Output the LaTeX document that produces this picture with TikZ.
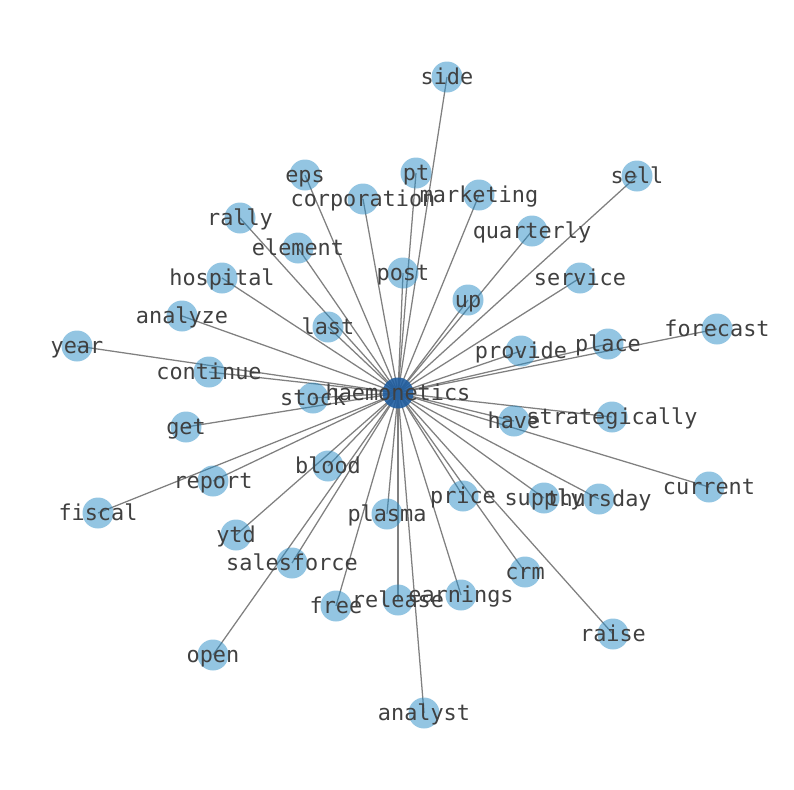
\documentclass[tikz,border=0pt]{standalone}
\usepackage{fontspec}
\setmonofont{DejaVu Sans Mono}
\usetikzlibrary{backgrounds}
\definecolor{leafblue}{RGB}{40,140,198}
\definecolor{hubblue}{RGB}{28,92,160}
\definecolor{labgray}{RGB}{64,64,64}
\definecolor{edgegray}{RGB}{128,128,128}
\begin{document}
\begin{tikzpicture}[x=0.75pt,y=-0.75pt,
  leaf/.style={circle,fill=leafblue,fill opacity=0.5,minimum size=23.25pt,inner sep=0pt},
  hub/.style={circle,fill=hubblue,fill opacity=0.88,minimum size=23.25pt,inner sep=0pt},
  lab/.style={font=\ttfamily\fontsize{16.4}{16.4}\selectfont,text=labgray,inner sep=0pt,anchor=center,yshift=-1.2pt},
  edge/.style={draw=edgegray,line width=0.95pt}]
\useasboundingbox (0,0) rectangle (794,790);
\node[hub] (n-haemonetics) at (398,393) {};
\foreach \w/\x/\y in {side/447/77, eps/305/175, pt/416/173, corporation/363/199, marketing/479/195,
  sell/637/176, rally/240/218, element/298/248, quarterly/532/231, hospital/222/278, post/403/273,
  service/580/278, analyze/182/316, up/468/300, last/328/327, forecast/717/329, year/77/346,
  provide/521/351, place/608/344, continue/209/372, stock/313/398, get/186/427, have/514/421,
  strategically/612/417, blood/328/466, report/213/481, current/709/487, fiscal/98/513,
  price/463/496, supply/544/498, thursday/599/499, plasma/387/514, ytd/236/535,
  salesforce/292/563, crm/525/572, earnings/461/595, release/398/600, free/336/606,
  raise/613/634, open/213/655, analyst/424/713}{
  \node[leaf] (n-\w) at (\x,\y) {};
  \begin{scope}[on background layer]
    \draw[edge] (n-haemonetics.center) -- (n-\w.center);
  \end{scope}
}
\foreach \w/\x/\y in {haemonetics/398/393, side/447/77, eps/305/175, pt/416/173, corporation/363/199, marketing/479/195,
  sell/637/176, rally/240/218, element/298/248, quarterly/532/231, hospital/222/278, post/403/273,
  service/580/278, analyze/182/316, up/468/300, last/328/327, forecast/717/329, year/77/346,
  provide/521/351, place/608/344, continue/209/372, stock/313/398, get/186/427, have/514/421,
  strategically/612/417, blood/328/466, report/213/481, current/709/487, fiscal/98/513,
  price/463/496, supply/544/498, thursday/599/499, plasma/387/514, ytd/236/535,
  salesforce/292/563, crm/525/572, earnings/461/595, release/398/600, free/336/606,
  raise/613/634, open/213/655, analyst/424/713}{
  \node[lab] (l-\w) at (\x,\y) {\vphantom{Ag}\w};
}
\end{tikzpicture}
\end{document}
